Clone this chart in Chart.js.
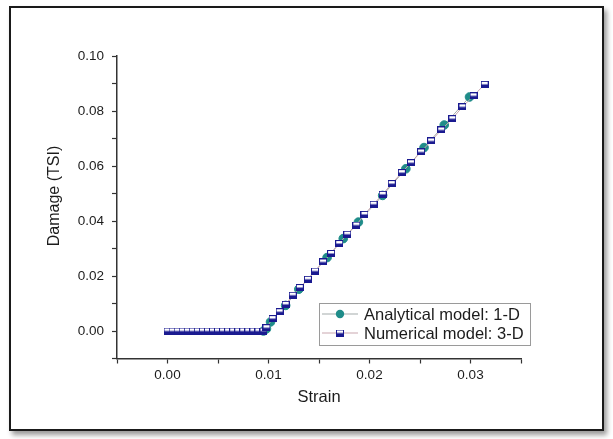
<!DOCTYPE html>
<html>
<head>
<meta charset="utf-8">
<script src="https://cdn.jsdelivr.net/npm/chart.js@4"></script>
<style>
    body { margin: 0; background: #fff; }
    #frame {
        position: absolute; left: 9px; top: 6px; width: 591px; height: 421px;
        border: 2px solid #1a1a1a; box-shadow: 3px 4px 5px rgba(0, 0, 0, 0.4);
        background: #fff;
    }
    #wrap { position: absolute; left: 0; top: 0; width: 613px; height: 439px; }
</style>
</head>
<body>
<div id="frame"></div>
<div id="wrap"><canvas id="damage"></canvas></div>
<script>
// values
const numStrain = [0, 0.0005, 0.001, 0.0015, 0.002, 0.0025, 0.003, 0.0035, 0.004, 0.0045,
    0.005, 0.0055, 0.006, 0.0065, 0.007, 0.0075, 0.008, 0.0085, 0.009, 0.0095,
    0.0098, 0.0104, 0.0111, 0.0117, 0.0124, 0.0131, 0.0139, 0.0146, 0.0154, 0.0162,
    0.0170, 0.0178, 0.0187, 0.0195, 0.0204, 0.0213, 0.0222, 0.0232, 0.0241, 0.0251,
    0.0261, 0.0271, 0.0282, 0.0292, 0.0303, 0.0314];
const numDamage = [0, 0, 0, 0, 0, 0, 0, 0, 0, 0,
    0, 0, 0, 0, 0, 0, 0, 0, 0, 0,
    0.0012, 0.0045, 0.0070, 0.0097, 0.0130, 0.0158, 0.0188, 0.0218, 0.0251, 0.0282,
    0.0318, 0.0352, 0.0385, 0.0424, 0.0461, 0.0497, 0.0536, 0.0576, 0.0612, 0.0651,
    0.0691, 0.0731, 0.0772, 0.0815, 0.0855, 0.0897];

const anaStrain = [0.0095, 0.0098, 0.0102, 0.0117, 0.0130, 0.0158, 0.0174, 0.0189, 0.0213, 0.0236, 0.0254, 0.0274, 0.0299];
const anaDamage = [0, 0.0008, 0.0033, 0.0093, 0.0152, 0.0267, 0.0336, 0.0396, 0.0493, 0.0590, 0.0667, 0.0749, 0.0851];

const xTicks = { min: -0.005, max: 0.035, step: 0.005 };
const yTicks = { min: -0.01, max: 0.10, step: 0.01 };

const teal = '#1f8c89';
const navy = '#1a1a90';
const textColor = '#1c1c1c';

function pair(xs, ys) {
    return xs.map(function (x, i) { return { x: x, y: ys[i] }; });
}

// half filled square marker like the original
function halfSquare() {
    const c = document.createElement('canvas');
    c.width = 8; c.height = 7;
    const g = c.getContext('2d');
    g.fillStyle = '#fff';
    g.fillRect(0, 0, 8, 7);
    g.fillStyle = navy;
    g.fillRect(0, 3.5, 8, 3.5);
    g.strokeStyle = navy;
    g.lineWidth = 1;
    g.strokeRect(0.5, 0.5, 7, 6);
    return c;
}
const squareImg = halfSquare();

function isMajor(v, per) {
    return Math.abs(v * per - Math.round(v * per)) < 1e-6;
}

const extras = {
    id: 'extras',
    afterDraw(chart) {
        const ctx = chart.ctx;
        ctx.save();
        // y axis title
        ctx.fillStyle = textColor;
        ctx.font = '16px "Liberation Sans", Arial, sans-serif';
        ctx.textAlign = 'center';
        ctx.textBaseline = 'middle';
        ctx.translate(55, 196);
        ctx.rotate(-Math.PI / 2);
        ctx.fillText('Damage (TSI)', 0, 0);
        ctx.restore();

        // legend box
        ctx.save();
        ctx.fillStyle = '#fff';
        ctx.fillRect(319.5, 303.5, 211, 42);
        ctx.strokeStyle = '#9a9a9a';
        ctx.lineWidth = 1;
        ctx.strokeRect(319.5, 303.5, 211, 42);
        const sets = chart.data.datasets;
        const rows = [314, 333];
        ctx.font = '16.5px "Liberation Sans", Arial, sans-serif';
        ctx.textBaseline = 'middle';
        for (let i = 0; i < sets.length; ++i) {
            const y = rows[i];
            ctx.strokeStyle = sets[i].borderColor;
            ctx.beginPath();
            ctx.moveTo(322, y);
            ctx.lineTo(358, y);
            ctx.stroke();
            if (sets[i].pointStyle === 'circle') {
                ctx.fillStyle = teal;
                ctx.beginPath();
                ctx.arc(340, y, 4.2, 0, Math.PI * 2);
                ctx.fill();
            } else {
                ctx.drawImage(squareImg, 336, y - 3.5);
            }
            ctx.fillStyle = textColor;
            ctx.fillText(sets[i].label, 364, y + 1);
        }
        ctx.restore();
    }
};

function renderChart() {
    const ctx = document.getElementById('damage').getContext('2d');
    new Chart(ctx, {
        type: 'scatter',
        data: {
            datasets: [{
                label: 'Analytical model: 1-D',
                data: pair(anaStrain, anaDamage),
                showLine: true,
                borderColor: '#a3abab',
                borderWidth: 1,
                pointStyle: 'circle',
                pointRadius: 4.3,
                pointBackgroundColor: teal,
                pointBorderColor: teal,
                order: 1
            }, {
                label: 'Numerical model: 3-D',
                data: pair(numStrain, numDamage),
                showLine: true,
                borderColor: '#c9a7af',
                borderWidth: 1,
                pointStyle: squareImg,
                order: 0
            }]
        },
        options: {
            responsive: true,
            maintainAspectRatio: false,
            animation: false,
            layout: { padding: { left: 0, top: 56, right: 92, bottom: 0 } },
            plugins: { legend: { display: false }, tooltip: { enabled: false } },
            scales: {
                x: {
                    type: 'linear',
                    min: xTicks.min,
                    max: xTicks.max,
                    afterFit(scale) { scale.height = 80.5; },
                    border: { display: true, color: '#333', width: 1.5 },
                    grid: { drawOnChartArea: false, drawTicks: true, tickLength: 5, tickColor: '#333', tickWidth: 1.2 },
                    ticks: {
                        stepSize: xTicks.step,
                        autoSkip: false,
                        maxRotation: 0,
                        padding: 4,
                        color: textColor,
                        font: { family: '"Liberation Sans", Arial, sans-serif', size: 13.5 },
                        callback: function (v) { return isMajor(v, 100) ? v.toFixed(2) : ''; }
                    },
                    title: {
                        display: true,
                        text: 'Strain',
                        color: textColor,
                        font: { family: '"Liberation Sans", Arial, sans-serif', size: 16.5 },
                        padding: { top: 0, bottom: 32 }
                    }
                },
                y: {
                    type: 'linear',
                    min: yTicks.min,
                    max: yTicks.max,
                    afterFit(scale) { scale.width = 117; },
                    border: { display: true, color: '#333', width: 1.5 },
                    grid: { drawOnChartArea: false, drawTicks: true, tickLength: 5, tickColor: '#333', tickWidth: 1.2 },
                    ticks: {
                        stepSize: yTicks.step,
                        autoSkip: false,
                        padding: 8,
                        color: textColor,
                        font: { family: '"Liberation Sans", Arial, sans-serif', size: 13.5 },
                        callback: function (v) { return (isMajor(v, 50) && v > -0.005) ? v.toFixed(2) : ''; }
                    }
                }
            }
        },
        plugins: [extras]
    });
}

window.addEventListener('load', function () {
    renderChart();
});
</script>
</body>
</html>
